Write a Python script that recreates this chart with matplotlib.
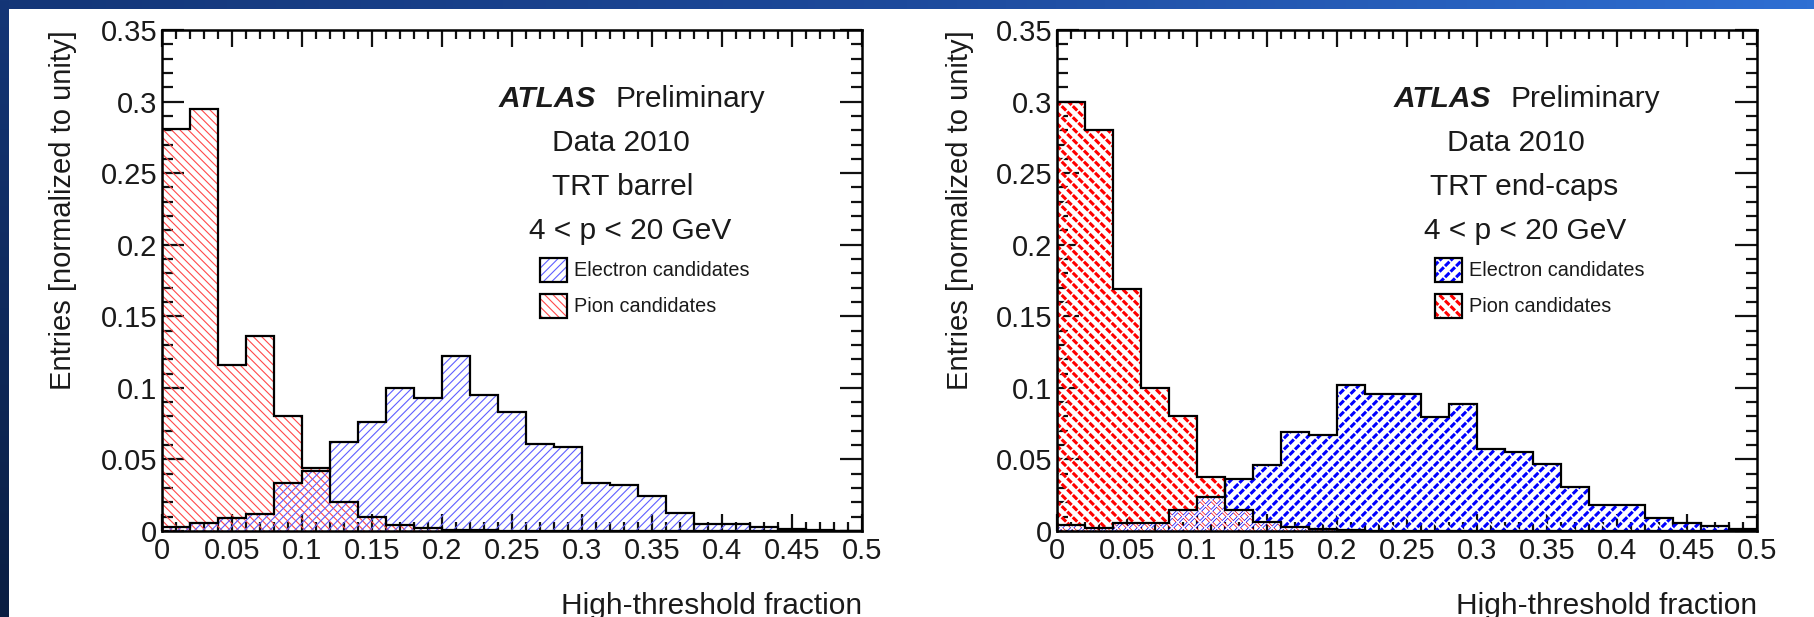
import numpy as np
import matplotlib
matplotlib.use("Agg")
import matplotlib.pyplot as plt
from matplotlib.patches import Rectangle
from matplotlib.ticker import MultipleLocator, FuncFormatter
from matplotlib.colors import LinearSegmentedColormap

# ---------------- data ----------------
bin_edges = np.round(np.arange(0, 0.5001, 0.02), 4)

barrel_pion = [0.281, 0.295, 0.116, 0.136, 0.080, 0.044, 0.020, 0.0096, 0.004, 0.002,
               0.001, 0.0005, 0.0, 0.0, 0.0, 0.0, 0.0, 0.0, 0.0, 0.0,
               0.0, 0.0, 0.0, 0.0, 0.0]
barrel_electron = [0.0027, 0.0058, 0.0088, 0.012, 0.0335, 0.042, 0.062, 0.076, 0.0996, 0.093,
                   0.122, 0.095, 0.083, 0.061, 0.059, 0.0335, 0.032, 0.0247, 0.0124, 0.005,
                   0.005, 0.0027, 0.0014, 0.0005, 0.0]
endcap_pion = [0.300, 0.280, 0.169, 0.100, 0.080, 0.0376, 0.015, 0.0065, 0.003, 0.0017,
               0.0005, 0.0, 0.0, 0.0, 0.0, 0.0, 0.0, 0.0, 0.0, 0.0,
               0.0, 0.0, 0.0, 0.0, 0.0]
endcap_electron = [0.004, 0.002, 0.0055, 0.0055, 0.015, 0.0235, 0.036, 0.046, 0.0695, 0.0668,
                   0.1017, 0.0956, 0.0956, 0.0796, 0.089, 0.0575, 0.0555, 0.047, 0.0307, 0.0182,
                   0.0182, 0.0091, 0.0055, 0.0036, 0.0014]

panel_regions = ["TRT barrel", "TRT end-caps"]
header_bold = "ATLAS"
header_rest = "Preliminary"
data_label = "Data 2010"
momentum_label = "4 < p < 20 GeV"
series_names = ["Electron candidates", "Pion candidates"]
x_title = "High-threshold fraction"
y_title = "Entries [normalized to unity]"

FONT = ["Liberation Sans", "DejaVu Sans"]
TXT = "#1a1a1a"

W, H = 1814, 617
fig = plt.figure(figsize=(W / 100, H / 100), dpi=100)
fig.patch.set_facecolor("white")

# ---------------- blue slide frame ----------------
top = fig.add_axes([0, 1 - 9 / H, 1, 9 / H])
top.axis("off")
top.imshow(np.linspace(0, 1, 256)[None, :], aspect="auto", extent=[0, 1, 0, 1],
           cmap=LinearSegmentedColormap.from_list("t", ["#143677", "#1d4a9c", "#2f6fd3"]))
left = fig.add_axes([0, 0, 9 / W, 1])
left.axis("off")
left.imshow(np.linspace(0, 1, 256)[:, None], aspect="auto", extent=[0, 1, 0, 1],
            cmap=LinearSegmentedColormap.from_list("l", ["#143677", "#0a1e42"]))


def set_hlw(p, lw):
    if hasattr(p, "set_hatch_linewidth"):
        p.set_hatch_linewidth(lw)


fmt = FuncFormatter(lambda v, p: "%g" % round(v, 4))

panels = [
    dict(x0=162, pion=barrel_pion, ele=barrel_electron, region=panel_regions[0],
         style="light", ylab_x=63, region_cx=0.658),
    dict(x0=1057, pion=endcap_pion, ele=endcap_electron, region=panel_regions[1],
         style="dense", ylab_x=960, region_cx=0.667),
]

for P in panels:
    ax = fig.add_axes([P["x0"] / W, (H - 531) / H, 700 / W, 501 / H])
    ax.set_xlim(0, 0.5)
    ax.set_ylim(0, 0.35)

    if P["style"] == "light":
        specs = [(P["pion"], "#ff4a4a", "\\\\\\\\", 0.8, None),
                 (P["ele"], "#6060ff", "////", 0.8, None)]
    else:
        specs = [(P["pion"], "#ff0000", "\\\\\\", 2.2, "///"),
                 (P["ele"], "#0000ff", "///", 2.2, "\\\\\\")]

    for vals, col, hatch, hlw, cut in specs:
        s = ax.stairs(vals, bin_edges, fill=True, facecolor="none", edgecolor=col,
                      hatch=hatch, linewidth=0, zorder=2)
        set_hlw(s, hlw)
        if cut:
            c = ax.stairs(vals, bin_edges, fill=True, facecolor="none", edgecolor="white",
                          hatch=cut, linewidth=0, zorder=2.1)
            set_hlw(c, 1.2)
    for vals, col, hatch, hlw, cut in specs:
        ax.stairs(vals, bin_edges, color="black", linewidth=1.6, baseline=0, zorder=3)

    ax.xaxis.set_major_locator(MultipleLocator(0.05))
    ax.xaxis.set_minor_locator(MultipleLocator(0.01))
    ax.yaxis.set_major_locator(MultipleLocator(0.05))
    ax.yaxis.set_minor_locator(MultipleLocator(0.01))
    ax.xaxis.set_major_formatter(fmt)
    ax.yaxis.set_major_formatter(fmt)
    ax.tick_params(axis="both", which="both", direction="in", top=True, right=True,
                   width=1.6, color="#111111", labelsize=21, labelcolor=TXT)
    ax.tick_params(axis="x", which="major", length=12.5, pad=4)
    ax.tick_params(axis="x", which="minor", length=6.5)
    ax.tick_params(axis="y", which="major", length=16, pad=3.5)
    ax.tick_params(axis="y", which="minor", length=8)
    for lab in ax.get_xticklabels() + ax.get_yticklabels():
        lab.set_family(FONT)
    for sp in ax.spines.values():
        sp.set_linewidth(1.8)
        sp.set_zorder(5)

    tk = dict(transform=ax.transAxes, family=FONT, fontsize=21.5, color=TXT, va="baseline")
    ax.text(0.481, 0.847, header_bold, ha="left", fontweight="bold", style="italic", **tk)
    ax.text(0.648, 0.847, header_rest, ha="left", **tk)
    ax.text(0.655, 0.7585, data_label, ha="center", **tk)
    ax.text(P["region_cx"], 0.670, P["region"], ha="center", **tk)
    ax.text(0.669, 0.583, momentum_label, ha="center", **tk)

    # legend
    for (vals, col, hatch, hlw, cut), yb, name in zip(specs[::-1], [0.4964, 0.425], series_names):
        r = Rectangle((0.54, yb), 0.0386, 0.048, transform=ax.transAxes, facecolor="none",
                      edgecolor=col, hatch=hatch, linewidth=0, zorder=4)
        set_hlw(r, hlw)
        ax.add_patch(r)
        if cut:
            r2 = Rectangle((0.54, yb), 0.0386, 0.048, transform=ax.transAxes, facecolor="none",
                           edgecolor="white", hatch=cut, linewidth=0, zorder=4.1)
            set_hlw(r2, 1.2)
            ax.add_patch(r2)
        ax.add_patch(Rectangle((0.54, yb), 0.0386, 0.048, transform=ax.transAxes,
                               fill=False, edgecolor="black", linewidth=1.6, zorder=4.2))
        ax.text(0.5886, yb + 0.024, name, transform=ax.transAxes, family=FONT,
                fontsize=14.3, color=TXT, ha="left", va="center")

    fig.text(P["ylab_x"] / W, 1 - 30 / H, y_title, rotation=90, ha="center", va="top",
             family=FONT, fontsize=21, color=TXT)
    fig.text((P["x0"] + 700) / W, 3.5 / H, x_title, ha="right", va="baseline",
             family=FONT, fontsize=21.5, color=TXT)

fig.savefig("out.png", dpi=100, facecolor="white")
